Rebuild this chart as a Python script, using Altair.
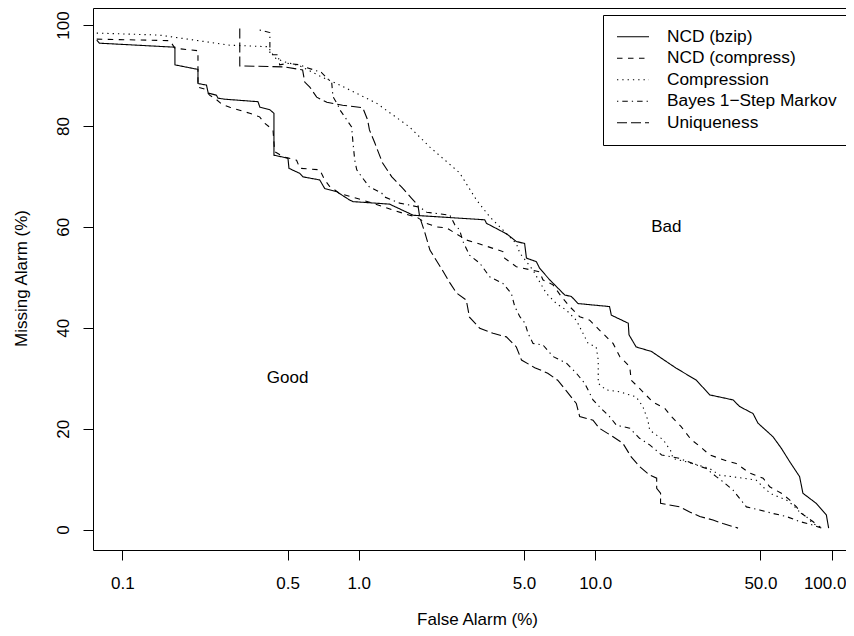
import altair as alt
import pandas as pd

series_names = ["NCD (bzip)", "NCD (compress)", "Compression",
                "Bayes 1\u2212Step Markov", "Uniqueness"]

bzip_x = [0.078, 0.080, 0.167, 0.167, 0.209, 0.209, 0.227, 0.231, 0.250, 0.254, 0.271,
          0.375, 0.382, 0.421, 0.438, 0.438, 0.502, 0.507, 0.563, 0.582, 0.684, 0.718,
          0.805, 0.916, 0.946, 1.35, 1.70, 3.41, 3.47, 4.07, 4.28, 4.64, 5.03, 5.12,
          5.64, 5.82, 6.42, 7.08, 7.43, 7.93, 8.46, 11.5, 11.7, 13.8, 13.9, 14.9, 17.3,
          20.0, 22.0, 26.8, 30.5, 38.3, 40.8, 46.5, 48.8, 56.5, 61.3, 66.4, 73.2, 75.6,
          86.1, 95.0, 97.1]
bzip_y = [97.0, 96.4, 95.6, 92.1, 91.2, 88.4, 88.1, 86.5, 86.1, 85.5, 85.3, 84.8, 83.7,
          83.2, 82.5, 74.2, 73.6, 71.6, 70.6, 69.9, 69.3, 67.6, 67.0, 65.3, 65.0, 64.5,
          62.3, 61.4, 60.7, 59.0, 58.4, 57.1, 56.7, 53.8, 53.1, 51.8, 49.5, 47.5, 46.5,
          46.2, 44.8, 44.2, 42.5, 40.9, 38.6, 36.2, 35.3, 33.3, 32.0, 29.6, 26.7, 25.7,
          24.4, 23.0, 21.1, 18.4, 16.1, 13.5, 10.5, 7.2, 5.2, 2.9, 0.3]

compress_x = [0.078, 0.159, 0.167, 0.209, 0.209, 0.223, 0.234, 0.246, 0.264, 0.285, 0.346,
              0.381, 0.401, 0.434, 0.441, 0.479, 0.546, 0.564, 0.684, 0.718, 0.754, 0.832,
              1.04, 1.27, 1.40, 1.64, 1.75, 1.93, 2.13, 2.35, 2.85, 3.25, 4.07, 4.14, 4.64,
              4.95, 5.82, 6.01, 6.63, 7.19, 7.80, 8.60, 9.48, 10.4, 11.9, 12.7, 14.0, 14.2,
              15.4, 17.5, 19.7, 21.0, 23.1, 25.5, 27.2, 30.5, 36.5, 39.5, 45.0, 51.3, 54.7,
              61.3, 66.4, 71.0, 74.5, 83.3, 89.0]
compress_y = [97.2, 96.9, 95.4, 94.9, 87.7, 87.3, 86.1, 85.5, 84.3, 83.7, 82.5, 81.8, 80.5,
              79.2, 74.9, 73.9, 73.2, 71.6, 71.3, 69.3, 68.0, 66.6, 65.3, 64.0, 63.3, 62.3,
              62.0, 60.7, 60.0, 59.8, 57.4, 56.6, 55.1, 53.8, 52.1, 51.8, 51.1, 49.5, 48.5,
              46.2, 44.2, 42.2, 41.5, 39.6, 36.9, 34.3, 32.3, 29.6, 28.0, 25.3, 24.0, 22.4,
              20.4, 17.8, 16.8, 14.8, 13.5, 13.1, 11.2, 10.2, 8.5, 7.2, 5.9, 4.5, 3.2, 1.6,
              0.5]

compression_x = [0.078, 0.144, 0.285, 0.414, 0.441, 0.486, 0.564, 0.684, 0.832, 1.19, 1.64,
                 2.0, 2.67, 3.15, 3.58, 4.07, 4.35, 4.64, 4.80, 5.12, 5.46, 5.82, 6.22, 6.85,
                 7.55, 8.32, 8.88, 9.33, 10.1, 10.3, 10.3, 11.1, 12.7, 14.9, 15.9, 16.7, 17.0,
                 19.4, 21.0, 21.3, 25.9, 30.5, 33.6, 42.2, 48.0, 53.0, 56.5, 64.3, 68.5, 73.2,
                 78.1, 83.3, 90.4]
compression_y = [98.4, 98.0, 96.0, 95.7, 93.5, 92.7, 91.9, 89.9, 88.1, 84.5, 79.8, 75.8,
                 70.7, 65.3, 62.0, 59.4, 58.0, 56.7, 54.8, 53.1, 51.4, 49.1, 46.8, 44.8,
                 43.5, 41.5, 38.9, 36.9, 36.2, 33.6, 29.0, 27.7, 27.3, 26.3, 24.4, 21.7,
                 19.7, 17.8, 15.4, 14.1, 13.1, 12.1, 10.8, 10.2, 9.8, 7.8, 6.9, 5.9, 4.9, 3.5,
                 2.6, 1.2, 0.5]

bayes_x = [0.381, 0.421, 0.421, 0.456, 0.463, 0.502, 0.564, 0.591, 0.695, 0.733, 0.769,
           0.778, 0.817, 0.832, 0.873, 0.890, 0.933, 0.946, 0.962, 0.981, 1.03, 1.11, 1.25,
           1.29, 1.49, 1.81, 1.94, 2.43, 2.55, 2.67, 2.76, 2.94, 3.25, 3.58, 4.07, 4.42,
           4.57, 4.80, 5.05, 5.20, 5.46, 6.01, 6.63, 7.55, 8.32, 9.03, 9.79, 10.6, 11.5,
           12.3, 14.0, 15.4, 17.0, 19.1, 22.8, 26.8, 29.5, 32.5, 34.7, 38.3, 40.8, 43.6,
           49.6, 56.5, 64.3, 73.2, 83.3, 90.4]
bayes_y = [99.0, 98.5, 94.1, 94.1, 92.1, 92.4, 92.1, 91.7, 90.6, 89.5, 88.5, 85.8, 84.1,
           83.2, 81.8, 81.2, 79.8, 76.6, 73.2, 71.3, 69.9, 67.9, 66.7, 65.9, 64.7, 63.9,
           62.9, 62.3, 60.4, 59.4, 57.1, 54.4, 52.8, 50.1, 48.8, 46.8, 44.2, 42.2, 40.9,
           38.9, 36.9, 36.6, 34.3, 33.0, 31.0, 29.0, 25.7, 24.0, 22.4, 20.7, 20.1, 18.1,
           16.8, 14.8, 14.1, 12.8, 12.1, 10.5, 9.5, 7.8, 6.2, 4.5, 3.9, 3.2, 2.6, 1.6, 0.9,
           0.3]

unique_x = [0.314, 0.314, 0.486, 0.579, 0.591, 0.621, 0.664, 0.733, 0.855, 1.04, 1.09,
            1.11, 1.17, 1.26, 1.38, 1.53, 1.67, 1.78, 1.81, 1.90, 2.0, 2.26, 2.43, 2.59,
            2.85, 2.94, 3.25, 3.70, 4.21, 4.64, 4.88, 5.55, 6.30, 6.94, 7.55, 8.32, 8.60,
            9.79, 10.4, 11.9, 13.1, 14.2, 15.4, 17.0, 18.2, 18.2, 18.9, 18.9, 22.8, 25.1,
            27.7, 31.5, 34.7, 40.2]
unique_y = [99.3, 91.9, 91.7, 91.1, 88.7, 87.7, 85.7, 84.7, 84.1, 83.6, 81.2, 79.2, 76.6,
            72.7, 69.9, 67.7, 65.7, 64.3, 62.0, 59.0, 55.4, 51.4, 48.9, 46.9, 45.5, 42.1,
            39.9, 38.9, 38.2, 36.2, 33.6, 32.1, 31.0, 29.6, 27.5, 25.0, 22.4, 21.7, 20.1,
            18.4, 17.1, 14.4, 12.5, 10.8, 10.2, 8.2, 7.2, 5.2, 4.5, 3.5, 2.6, 1.9, 1.2, 0.3]

note_text = ["Good", "Bad"]
note_x = [0.5, 20.0]
note_y = [30.0, 60.0]

x_ticks = [0.1, 0.5, 1, 5, 10, 50, 100]
y_ticks = [0, 20, 40, 60, 80, 100]

rows = []
for name, xs, ys in zip(series_names,
                        [bzip_x, compress_x, compression_x, bayes_x, unique_x],
                        [bzip_y, compress_y, compression_y, bayes_y, unique_y]):
    for i, (a, b) in enumerate(zip(xs, ys)):
        rows.append({"series": name, "fa": a, "miss": b, "idx": i})
df = pd.DataFrame(rows)
notes = pd.DataFrame({"label": note_text, "fa": note_x, "miss": note_y})

FONT = "Liberation Sans"
dashes = [[1, 0], [5.5, 5.5], [1.3, 4], [1.3, 4, 5.5, 4], [10, 4]]

xscale = alt.Scale(type="log", domain=[0.0752, 115.0], nice=False, zero=False)
yscale = alt.Scale(domain=[-4.04, 103.37], nice=False, zero=False)

xaxis = alt.Axis(values=x_ticks, format=".1f", grid=False,
                 domain=True, domainColor="black", domainWidth=1,
                 tickSize=10, tickColor="black", tickWidth=1,
                 labelFont=FONT, labelFontSize=17, labelColor="black",
                 labelPadding=15, labelFlush=False, labelOverlap=False,
                 labelBaseline="top",
                 labelOffset={"condition": {"test": "datum.value >= 100", "value": -7},
                              "value": 0},
                 title="False Alarm (%)", titleFont=FONT, titleFontSize=17,
                 titleFontWeight="normal", titleColor="black",
                 titleX=384, titleY=74, titleAlign="center",
                 titleBaseline="alphabetic")
xaxis_top = alt.Axis(orient="top", labels=False, ticks=False, grid=False,
                     domain=True, domainColor="black", domainWidth=1, title=None)
yaxis = alt.Axis(values=y_ticks, format="d", grid=False,
                 domain=True, domainColor="black", domainWidth=1,
                 tickSize=10, tickColor="black", tickWidth=1,
                 labelFont=FONT, labelFontSize=17, labelColor="black",
                 labelAngle=-90, labelAlign="center", labelBaseline="bottom",
                 labelPadding=11, labelFlush=False, labelOverlap=False,
                 title="Missing Alarm (%)", titleFont=FONT, titleFontSize=17,
                 titleFontWeight="normal", titleColor="black",
                 titleX=-67, titleY=270, titleAlign="center",
                 titleBaseline="alphabetic")

lines = alt.Chart(df).mark_line(color="black", strokeWidth=1.1, clip=True).encode(
    x=alt.X("fa:Q", scale=xscale, axis=xaxis),
    y=alt.Y("miss:Q", scale=yscale, axis=yaxis),
    strokeDash=alt.StrokeDash(
        "series:N",
        scale=alt.Scale(domain=series_names, range=dashes),
        legend=alt.Legend(title=None, orient="none", legendX=510, legendY=7,
                          padding=13, strokeColor="black", fillColor="white",
                          cornerRadius=0, labelFont=FONT, labelFontSize=17.3,
                          labelColor="black", symbolType="stroke",
                          symbolSize=1024, symbolStrokeWidth=1.2,
                          symbolStrokeColor="black", clipHeight=17.5,
                          rowPadding=2.5, labelOffset=17, labelLimit=400),
    ),
    order=alt.Order("idx:Q"),
)

texts = alt.Chart(notes).mark_text(font=FONT, fontSize=17, color="black",
                                    align="center", baseline="middle").encode(
    x=alt.X("fa:Q", scale=xscale, axis=xaxis_top),
    y=alt.Y("miss:Q", scale=yscale, axis=yaxis),
    text="label:N",
)

chart = alt.layer(lines, texts).resolve_axis(x="independent").properties(
    width=753, height=542,
    autosize=alt.AutoSizeParams(type="none"),
    padding={"left": 85, "top": 0, "right": 0, "bottom": 78},
).configure_view(stroke=None)

chart.save("out.html", embed_options={"renderer": "svg", "actions": False})
